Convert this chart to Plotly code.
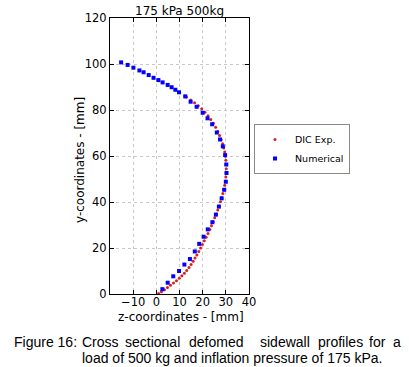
import plotly.graph_objects as go

# ---------------- data ----------------
num_z = [-15.2, -12.4, -9.9, -7.3, -5.5, -3.3, -1.2, 0.9, 2.7, 4.9, 6.6, 8.2, 9.8,
         12.5, 14.8, 17.4, 20.0, 22.1, 24.1, 26.1, 27.5, 28.7, 29.7, 30.2, 30.3,
         30.0, 29.3, 28.2, 27.0, 25.7, 24.2, 22.2, 20.4, 18.5, 16.6, 14.5, 12.1,
         9.8, 7.3, 4.9, 2.6]
num_y = [100.7, 99.6, 98.4, 97.2, 96.4, 95.2, 94.0, 93.0, 92.0, 90.9, 89.9, 88.8, 87.7,
         85.9, 83.6, 81.4, 78.8, 76.4, 73.8, 70.2, 67.2, 64.2, 60.4, 56.3, 52.6,
         48.8, 45.3, 41.6, 38.0, 34.5, 31.2, 28.1, 24.9, 21.8, 18.5, 15.2, 12.8,
         10.0, 7.7, 4.9, 2.1]

dic_z = [1.0, 2.2, 3.5, 4.8, 6.1, 7.4, 8.7, 9.9, 11.0, 12.1, 13.1, 14.1, 15.0, 15.9,
         16.7, 17.5, 18.3, 19.1, 19.9, 20.7, 21.5, 22.3, 23.1, 23.8, 24.5, 25.2,
         25.9, 26.5, 27.1, 27.7, 28.2, 28.7, 29.1, 29.5, 29.8, 30.0, 30.1, 30.2,
         30.1, 30.0, 29.8, 29.5, 29.1, 28.6, 28.0, 27.3, 26.5, 25.6, 24.6, 23.5,
         22.3, 21.0, 19.6, 18.1, 16.5, 14.8, 13.0, 12.3]
dic_y = [0.2, 1.0, 1.9, 2.8, 3.8, 4.8, 5.8, 6.8, 7.9, 9.0, 10.2, 11.5, 12.8, 14.2,
         15.6, 17.0, 18.5, 20.0, 21.5, 23.1, 24.7, 26.3, 28.0, 29.7, 31.4, 33.1,
         34.8, 36.5, 38.3, 40.1, 41.9, 43.7, 45.5, 47.3, 49.1, 50.9, 52.7, 54.5,
         56.3, 58.1, 59.9, 61.7, 63.5, 65.3, 67.1, 68.9, 70.7, 72.5, 74.2, 75.9,
         77.5, 79.0, 80.5, 81.9, 83.2, 84.4, 85.6, 86.1]

x_ticks = [-10, 0, 10, 20, 30, 40]
y_ticks = [0, 20, 40, 60, 80, 100, 120]

title_text = "175 kPa 500kg"
x_label = "z-coordinates - [mm]"
y_label = "y-coordinates - [mm]"
caption_line1 = ["Figure 16:", "Cross", "sectional", "defomed", "sidewall", "profiles", "for", "a"]
caption_line2 = "load of 500 kg and inflation pressure of 175 kPa."

# ---------------- layout helpers ----------------
W, H = 409, 367
L, R, T, B = 110, 249, 18, 294   # plot area in pixels


def px_x(px):
    return (px - L) / (R - L)


def px_y(py):
    return (B - py) / (B - T)


fig = go.Figure()
fig.add_trace(go.Scatter(x=dic_z, y=dic_y, mode="markers", name="DIC Exp.",
                         marker=dict(color="#d62020", size=3, symbol="circle",
                                     line=dict(width=0))))
fig.add_trace(go.Scatter(x=num_z, y=num_y, mode="markers", name="Numerical",
                         marker=dict(color="#0000ff", size=4, symbol="square",
                                     line=dict(width=0))))

axis_font = dict(family="DejaVu Sans", size=11.5, color="black")
common = dict(showgrid=True, gridcolor="#c8c8c8", griddash="dot", gridwidth=1,
              zeroline=False, showline=True, linecolor="black", linewidth=1,
              mirror="ticks", ticks="inside", ticklen=4, tickcolor="black",
              tickfont=axis_font)

fig.update_xaxes(range=[-20, 40], tickvals=x_ticks,
                 ticktext=[("\u2212" + str(-v)) if v < 0 else str(v) for v in x_ticks],
                 ticklabelstandoff=-3, **common)
fig.update_yaxes(range=[0, 120], tickvals=y_ticks, **common)

lab_font = dict(family="DejaVu Sans", size=12, color="black")
annotations = [
    dict(text=title_text, x=0.5, y=px_y(11), xref="paper", yref="paper",
         showarrow=False, xanchor="center", yanchor="middle", font=lab_font),
    dict(text=x_label, x=px_x(180.5), y=px_y(317), xref="paper", yref="paper",
         showarrow=False, xanchor="center", yanchor="middle", font=lab_font),
    dict(text=y_label, x=px_x(80), y=px_y(160), xref="paper", yref="paper",
         showarrow=False, xanchor="center", yanchor="middle", textangle=-90, font=lab_font),
]

cap_font = dict(family="Liberation Sans", size=14, color="black")
line1_px = [13, 81, 124, 188, 259, 317, 368, 392]
for word, px in zip(caption_line1, line1_px):
    annotations.append(dict(text=word, x=px_x(px - 1), y=px_y(342), xref="paper", yref="paper",
                            showarrow=False, xanchor="left", yanchor="middle", font=cap_font))
annotations.append(dict(text=caption_line2, x=px_x(80), y=px_y(358), xref="paper", yref="paper",
                        showarrow=False, xanchor="left", yanchor="middle", font=cap_font))

fig.update_layout(
    width=W, height=H, autosize=False,
    margin=dict(l=L, r=W - R, t=T, b=H - B, pad=0),
    paper_bgcolor="white", plot_bgcolor="white",
    showlegend=True,
    legend=dict(x=px_x(254), y=px_y(124), xanchor="left", yanchor="top",
                bgcolor="white", bordercolor="#888888", borderwidth=1,
                font=dict(family="DejaVu Sans", size=9.5, color="black"),
                tracegroupgap=0, itemwidth=30),
    annotations=annotations,
)

fig.write_html("out.html", config={"displayModeBar": False},
               post_script="document.body.style.margin='0px';document.body.style.overflow='hidden';")
